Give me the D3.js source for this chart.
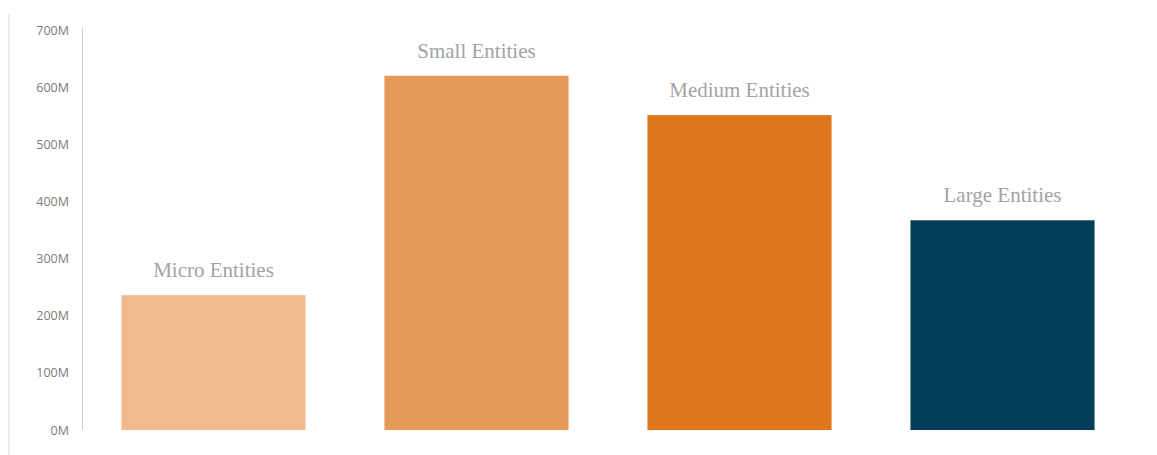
<!DOCTYPE html>
<html>
  <head>
    <meta charset="utf-8">
    <title>Entities chart</title>
    <script src="https://cdn.jsdelivr.net/npm/d3@7"></script>
    <style type="text/css">
      body { margin: 0; background: #fff; }
    </style>
  </head>
  <body>
    <script>
    // data (values in millions)
    var categories = ["Micro Entities", "Small Entities", "Medium Entities", "Large Entities"];
    var values = [236, 620, 551, 367];
    var colors = ["#F0BA8E", "#E69A57", "#DD761C", "#023E5A"];
    var yTicks = [0, 100, 200, 300, 400, 500, 600, 700];

    var width = 1157, height = 455;

    var svg = d3.select("body")
      .append("svg")
        .attr("width", width)
        .attr("height", height);

    // faint panel edge on the left
    svg.append("rect")
      .attr("x", 8).attr("y", 14)
      .attr("width", 2).attr("height", height - 14)
      .attr("fill", "#ececec");

    var xScale = d3.scaleBand()
      .domain(categories)
      .range([82, 1134])
      .paddingInner(0.3)
      .paddingOuter(0.15);

    var yScale = d3.scaleLinear()
      .domain([0, 700])
      .range([430, 30]);

    // y axis
    var yAxis = svg.append("g")
      .attr("transform", "translate(82,0)")
      .call(d3.axisLeft(yScale)
        .tickValues(yTicks)
        .tickSize(0)
        .tickPadding(13)
        .tickFormat(function(d) { return d + "M"; }));

    yAxis.select(".domain")
      .attr("stroke", "#d0d0d0")
      .attr("d", "M0.5,28V430");
    yAxis.selectAll("text")
      .attr("fill", "#7a7a7a")
      .style("font-family", "'Open Sans', sans-serif")
      .style("font-size", "12.5px");

    // bars
    svg.selectAll("rect.bar")
      .data(categories)
      .enter()
      .append("rect")
      .attr("class", "bar")
      .attr("x", function(d) { return xScale(d); })
      .attr("y", function(d, i) { return yScale(values[i]); })
      .attr("width", xScale.bandwidth())
      .attr("height", function(d, i) { return yScale(0) - yScale(values[i]); })
      .attr("fill", function(d, i) { return colors[i]; });

    // labels above bars
    svg.selectAll("text.label")
      .data(categories)
      .enter()
      .append("text")
      .attr("class", "label")
      .attr("x", function(d) { return xScale(d) + xScale.bandwidth() / 2; })
      .attr("y", function(d, i) { return yScale(values[i]) - 18; })
      .attr("text-anchor", "middle")
      .attr("fill", "#a3a3a3")
      .style("font-family", "'Liberation Serif', 'Times New Roman', serif")
      .style("font-size", "21px")
      .text(function(d) { return d; });
    </script>
  </body>
</html>
